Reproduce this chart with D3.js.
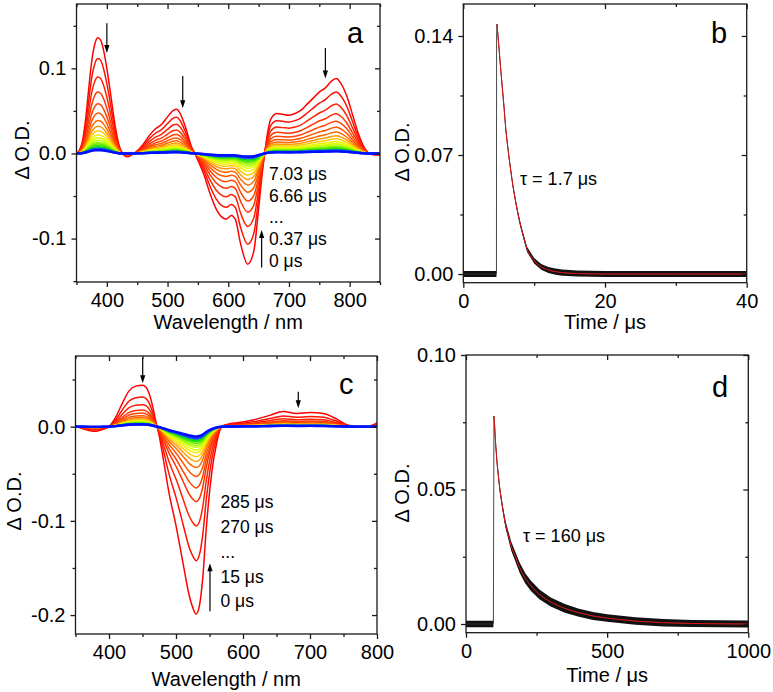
<!DOCTYPE html>
<html><head><meta charset="utf-8">
<script src="https://cdn.jsdelivr.net/npm/d3@7"></script>
<style>
body{margin:0;background:#fff}
svg{display:block}
text{font-family:"Liberation Sans",Arial,Helvetica,sans-serif;fill:#000}
</style>
</head><body>
<svg id="chart" width="773" height="692"></svg>
<script>
// ---------------- DATA ----------------
// Panel a: transient spectrum at 0 us (shape) and relative amplitudes of the 20 traces
const wlA = [350,355,360,365,370,375,380,385,390,395,400,405,410,415,420,425,430,435,440,445,
             450,460,470,480,490,500,510,515,520,530,540,545,
             550,560,570,580,590,597,605,612,620,632,642,650,655,660,
             665,670,680,690,700,710,720,730,740,750,760,770,778,785,795,805,815,825,835,850];
const spA = [0,0.004,0.015,0.040,0.075,0.108,0.128,0.136,0.133,0.120,0.100,0.076,0.050,0.027,0.010,0.001,-0.003,-0.004,-0.002,0,
             0.003,0.011,0.021,0.029,0.034,0.043,0.051,0.052,0.048,0.030,0.007,0,
             -0.008,-0.025,-0.047,-0.065,-0.075,-0.077,-0.073,-0.078,-0.105,-0.130,-0.115,-0.065,-0.030,0,
             0.025,0.040,0.047,0.046,0.045,0.047,0.051,0.058,0.065,0.072,0.077,0.085,0.088,0.083,0.068,0.045,0.022,0.006,-0.001,-0.002];
const ampA = [1,0.82,0.66,0.53,0.43,0.35,0.285,0.235,0.195,0.16,0.135,0.115,0.098,0.083,0.07,0.058,0.048,0.04,0.033,0.028];
const labelsA = ["7.03 μs","6.66 μs","...","0.37 μs","0 μs"];

// Panel c
const wlC = [350,360,370,380,390,400,410,420,430,440,450,455,460,465,470,
             475,480,490,500,510,520,525,530,535,540,545,550,555,560,565,570,
             580,600,620,640,660,680,700,720,740,755,770,790,800];
const spC = [0.001,-0.002,-0.004,-0.005,-0.003,0,0.010,0.025,0.038,0.043,0.044,0.042,0.035,0.022,0.005,
             -0.010,-0.030,-0.072,-0.105,-0.143,-0.180,-0.192,-0.199,-0.190,-0.160,-0.110,-0.070,-0.040,-0.020,-0.005,0.001,
             0.003,0.005,0.008,0.012,0.016,0.014,0.015,0.014,0.008,0.002,0,0.001,0.004];
const ampC = [1,0.715,0.53,0.40,0.327,0.266,0.218,0.186,0.16,0.14,0.125,0.11,0.10,0.09,0.082,0.075,0.068,0.062,0.057,0.052];
const labelsC = ["285 μs","270 μs","...","15 μs","0 μs"];

// trace colours, earliest (red) to latest (blue)
const traceColors = ["#ff0000","#ff1000","#ff2200","#ff3300","#ff4400","#ff5500","#ff6a00","#ff9a00","#ffc800",
                     "#f2ee00","#dcff00","#c0ff00","#9cf500","#70eb00","#3ee000","#00dd10","#00cc40","#2a4cff","#1530ff","#0010ff"];

// Panel b: decay at one wavelength
const tB = [0,4.68,4.7,4.75,5.0,5.25,5.5,5.75,6.0,6.5,7.0,7.5,8.0,8.5,9.0,10,11,12,13,14,16,20,30,40];
const vB = [0,0,0.140,0.147,0.135,0.122,0.110,0.098,0.085,0.067,0.052,0.040,0.030,0.022,0.0145,0.0078,0.0042,0.0024,0.0014,0.0008,0.0003,0,0,0];
const nB = [0.0018,0.0018,0,0,0.0006,0.0006,0.0008,0.0008,0.0008,0.001,0.001,0.0012,0.0013,0.0014,0.0015,0.0016,0.0017,0.0018,0.0018,0.0018,0.0018,0.0018,0.0018,0.0018];
const tauB = "τ = 1.7 μs";

// Panel d
const tD = [0,97,99,100,105,110,120,130,140,150,160,175,190,210,230,260,300,350,400,450,500,600,700,800,1000];
const vD = [0,0,0.0773,0.076,0.067,0.060,0.050,0.043,0.037,0.033,0.029,0.025,0.021,0.017,0.0142,0.011,0.0082,0.0058,0.0042,0.003,0.0022,0.0011,0.0005,0.0002,0];
const nD = [0.0012,0.0012,0,0.0002,0.0005,0.0007,0.0009,0.0011,0.0013,0.0015,0.0017,0.0018,0.0019,0.0019,0.0019,0.0018,0.0017,0.0016,0.0015,0.0015,0.0014,0.0014,0.0014,0.0013,0.0013];
const tauD = "τ = 160 μs";

// axis ticks
const xMajA = [400,500,600,700,800], xMinA = [350,450,550,650,750,850];
const yMajA = [-0.1,0,0.1], yMinA = [-0.15,-0.05,0.05,0.15];
const xMajB = [0,20,40], xMinB = [10,30];
const yMajB = [0,0.07,0.14], yMinB = [0.035,0.105];
const xMajC = [400,500,600,700,800], xMinC = [350,450,550,650,750];
const yMajC = [-0.2,-0.1,0], yMinC = [-0.15,-0.05,0.05];
const xMajD = [0,500,1000], xMinD = [250,750];
const yMajD = [0,0.05,0.1], yMinD = [0.025,0.075];

// ---------------- DRAWING ----------------
const svg = d3.select("#chart");
const FS = 20;

function makePanel(o) {
  const x = d3.scaleLinear().domain(o.xd).range(o.xr);
  const y = d3.scaleLinear().domain(o.yd).range(o.yr);
  const [L, R] = o.xr, [B, T] = o.yr;
  const g = svg.append("g");
  const clipId = "clip" + o.id;
  svg.append("clipPath").attr("id", clipId).append("rect")
     .attr("x", L).attr("y", T).attr("width", R - L).attr("height", B - T);
  const plot = g.append("g").attr("clip-path", `url(#${clipId})`);

  function axis(gen, tr, vals, size, fmt, pad) {
    const a = g.append("g").attr("transform", tr)
      .call(gen.tickValues(vals).tickSize(size).tickSizeOuter(0).tickPadding(pad).tickFormat(fmt));
    a.select(".domain").remove();
    a.selectAll("line").attr("stroke", "#1a1a1a").attr("stroke-width", 1.3);
    a.attr("font-size", FS).attr("font-family", null);
    a.selectAll("text").style("font-size", FS + "px");
    return a;
  }
  const none = () => "";
  axis(d3.axisBottom(x), `translate(0,${B})`, o.xMaj, 5, o.xFmt, 6);
  axis(d3.axisBottom(x), `translate(0,${B})`, o.xMin, 3, none, 6);
  axis(d3.axisTop(x), `translate(0,${T})`, o.xMaj, -5, none, 0);
  axis(d3.axisTop(x), `translate(0,${T})`, o.xMin, -3, none, 0);
  axis(d3.axisLeft(y), `translate(${L},0)`, o.yMaj, 5, o.yFmt, 5);
  axis(d3.axisLeft(y), `translate(${L},0)`, o.yMin, 3, none, 5);
  axis(d3.axisRight(y), `translate(${R},0)`, o.yMaj, -5, none, 0);
  axis(d3.axisRight(y), `translate(${R},0)`, o.yMin, -3, none, 0);

  g.append("rect").attr("x", L).attr("y", T).attr("width", R - L).attr("height", B - T)
    .attr("fill", "none").attr("stroke", "#1a1a1a").attr("stroke-width", 1.3);

  g.append("text").attr("x", (L + R) / 2).attr("y", o.xTitleY).attr("text-anchor", "middle")
    .style("font-size", FS + "px").text(o.xTitle);
  g.append("text").attr("transform", `translate(${o.yTitleX},${o.yTitleC}) rotate(-90)`)
    .attr("text-anchor", "middle").style("font-size", FS + "px").text("Δ O.D.");
  g.append("text").attr("x", o.letterX).attr("y", o.letterY).style("font-size", "29px").text(o.letter);
  return {x, y, g, plot};
}

function arrow(g, x1, y1, x2, y2) {
  const dir = Math.sign(y2 - y1);
  g.append("line").attr("x1", x1).attr("y1", y1).attr("x2", x2).attr("y2", y2 - dir * 6)
    .attr("stroke", "#000").attr("stroke-width", 1.2);
  g.append("path").attr("d", `M${x2},${y2} L${x2 - 2.6},${y2 - dir * 8} L${x2 + 2.6},${y2 - dir * 8} Z`)
    .attr("fill", "#000");
}

function spectra(p, wl, sp, amp) {
  const line = d3.line().x(d => p.x(d[0])).y(d => p.y(d[1])).curve(d3.curveMonotoneX);
  amp.forEach((a, i) => {
    const pts = wl.map((w, j) => [w, sp[j] * a]);
    p.plot.append("path").attr("d", line(pts)).attr("fill", "none")
      .attr("stroke", traceColors[i]).attr("stroke-width", i >= amp.length - 3 ? 2.4 : 1.5)
      .attr("stroke-linejoin", "round");
  });
}

function decay(p, t, v, n, fitStart) {
  const area = d3.area().x((d, i) => p.x(t[i])).y0((d, i) => p.y(v[i] - n[i])).y1((d, i) => p.y(v[i] + n[i]));
  p.plot.append("path").attr("d", area(t)).attr("fill", "#111");
  const line = d3.line().x(d => p.x(d[0])).y(d => p.y(d[1]));
  p.plot.append("path").attr("d", line(t.map((d, i) => [d, v[i]]))).attr("fill", "none")
    .attr("stroke", "#333").attr("stroke-width", 0.9);
  const fit = t.map((d, i) => [d, v[i]]).slice(fitStart);
  p.plot.append("path").attr("d", d3.line().x(d => p.x(d[0])).y(d => p.y(d[1])).curve(d3.curveMonotoneX)(fit))
    .attr("fill", "none").attr("stroke", "#e01010").attr("stroke-width", 1);
}

function stack(g, labels, x, ys) {
  labels.forEach((s, i) => g.append("text").attr("x", x).attr("y", ys[i]).style("font-size", "17.5px").text(s));
}

const hy = f => v => f(v).replace("\u2212", "-");
const f1 = hy(d3.format(".1f")), f2 = hy(d3.format(".2f")), f0 = d3.format("d");

// Panel a
const pa = makePanel({id: "a", xd: [350, 850], xr: [76.5, 380], yd: [-0.151, 0.1756], yr: [282, 4],
  xMaj: xMajA, xMin: xMinA, yMaj: yMajA, yMin: yMinA, xFmt: f0, yFmt: f1,
  xTitle: "Wavelength / nm", xTitleY: 328.5, yTitleX: 29, yTitleC: 150, letter: "a", letterX: 347, letterY: 43});
spectra(pa, wlA, spA, ampA);
arrow(pa.g, pa.x(400), pa.y(0.153), pa.x(400), pa.y(0.118));
arrow(pa.g, pa.x(525), pa.y(0.091), pa.x(525), pa.y(0.053));
arrow(pa.g, pa.x(760), pa.y(0.124), pa.x(760), pa.y(0.088));
arrow(pa.g, pa.x(655), pa.y(-0.134), pa.x(655), pa.y(-0.090));
stack(pa.g, labelsA, 269, [180, 201.5, 223, 245, 267]);

// Panel b
const pb = makePanel({id: "b", xd: [0, 40], xr: [463.3, 746.7], yd: [-0.0051, 0.1588], yr: [282.7, 4],
  xMaj: xMajB, xMin: xMinB, yMaj: yMajB, yMin: yMinB, xFmt: f0, yFmt: f2,
  xTitle: "Time / μs", xTitleY: 328.5, yTitleX: 409, yTitleC: 152, letter: "b", letterX: 711, letterY: 43});
decay(pb, tB, vB, nB, 3);
pb.g.append("text").attr("x", 520).attr("y", 185).style("font-size", "18px").text(tauB);

// Panel c
const pc = makePanel({id: "c", xd: [350, 800], xr: [75.5, 377], yd: [-0.2201, 0.075], yr: [634, 356],
  xMaj: xMajC, xMin: xMinC, yMaj: yMajC, yMin: yMinC, xFmt: f0, yFmt: f1,
  xTitle: "Wavelength / nm", xTitleY: 686, yTitleX: 21, yTitleC: 501, letter: "c", letterX: 339, letterY: 394});
spectra(pc, wlC, spC, ampC);
arrow(pc.g, pc.x(450.3), pc.y(0.073), pc.x(450.3), pc.y(0.046));
arrow(pc.g, pc.x(682.5), pc.y(0.037), pc.x(682.5), pc.y(0.0195));
arrow(pc.g, pc.x(550.7), pc.y(-0.196), pc.x(550.7), pc.y(-0.145));
stack(pc.g, labelsC, 220.5, [508, 532.5, 558, 583, 607]);

// Panel d
const pd = makePanel({id: "d", xd: [0, 1000], xr: [466, 748.3], yd: [-0.00323, 0.1], yr: [632.7, 355],
  xMaj: xMajD, xMin: xMinD, yMaj: yMajD, yMin: yMinD, xFmt: f0, yFmt: f2,
  xTitle: "Time / μs", xTitleY: 682, yTitleX: 409, yTitleC: 493, letter: "d", letterX: 712, letterY: 397});
decay(pd, tD, vD, nD, 2);
pd.g.append("text").attr("x", 523).attr("y", 542).style("font-size", "18px").text(tauD);
</script>
</body></html>
